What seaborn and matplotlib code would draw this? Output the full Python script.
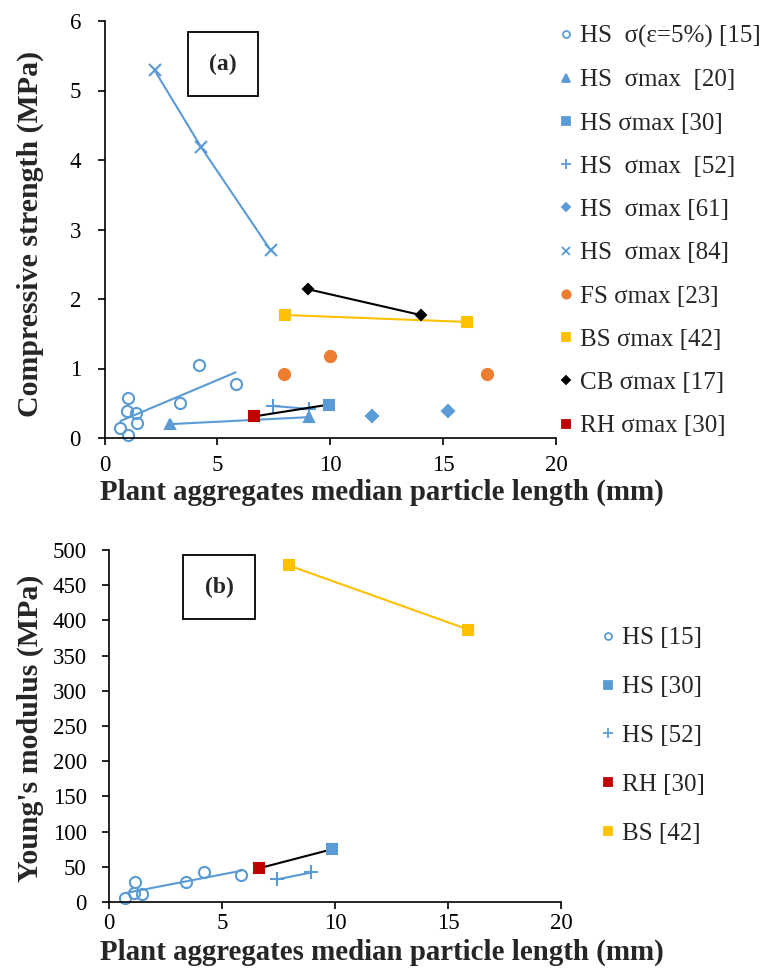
import numpy as np
import pandas as pd
import matplotlib
matplotlib.use("Agg")
import matplotlib.pyplot as plt
import seaborn as sns
from matplotlib.lines import Line2D

sns.set_theme(style="white")
plt.rcParams["font.family"] = ["Liberation Serif", "DejaVu Serif"]
plt.rcParams["mathtext.default"] = "regular"

BLUE = "#5B9BD5"
ORANGE = "#ED7D31"
YELLOW = "#FFC000"
BLACK = "#000000"
RED = "#C00000"

# ---------------- (a) compressive strength ----------------
a_hs15_x = [0.70, 1.01, 1.04, 1.04, 1.41, 1.44, 3.36, 4.19, 5.81]
a_hs15_y = [0.15, 0.39, 0.58, 0.04, 0.36, 0.21, 0.51, 1.05, 0.78]
a_hs20_x = [2.92, 9.04]
a_hs20_y = [0.20, 0.30]
a_hs30_x = [9.93]
a_hs30_y = [0.48]
a_hs52_x = [7.48, 9.04]
a_hs52_y = [0.46, 0.42]
a_hs61_x = [11.85, 15.23]
a_hs61_y = [0.31, 0.39]
a_hs84_x = [2.22, 4.27, 7.36]
a_hs84_y = [5.29, 4.19, 2.70]
a_fs23_x = [7.97, 10.0, 16.96]
a_fs23_y = [0.92, 1.18, 0.92]
a_bs42_x = [8.0, 16.04]
a_bs42_y = [1.77, 1.67]
a_cb17_x = [9.02, 14.0]
a_cb17_y = [2.14, 1.77]
a_rh30_x = [6.62]
a_rh30_y = [0.31]

a_labels = ["HS  σ(ε=5%) [15]", "HS  σmax  [20]", "HS σmax [30]", "HS  σmax  [52]",
            "HS  σmax [61]", "HS  σmax [84]", "FS σmax [23]", "BS σmax [42]",
            "CB σmax [17]", "RH σmax [30]"]

# ---------------- (b) Young's modulus ----------------
b_hs15_x = [0.71, 1.12, 1.15, 1.47, 3.39, 4.20, 5.83]
b_hs15_y = [5, 13, 29, 11, 29, 42, 39]
b_hs30_x = [9.88]
b_hs30_y = [75]
b_hs52_x = [7.42, 8.96]
b_hs52_y = [32, 42]
b_rh30_x = [6.65]
b_rh30_y = [48]
b_bs42_x = [7.96, 15.9]
b_bs42_y = [478, 387]

b_labels = ["HS [15]", "HS [30]", "HS [52]", "RH [30]", "BS [42]"]

W, H = 769, 969
fig = plt.figure(figsize=(W / 100, H / 100), dpi=100)


def frac_axes(l, t, r, b):
    return fig.add_axes([l / W, 1 - b / H, (r - l) / W, (b - t) / H])


axa = frac_axes(104.5, 21, 556, 438)
axb = frac_axes(109, 550, 561, 902)

TICK_FS = 16.5
XLBL_FS = 20.8
YLBL_FS = 21.5
LEG_FS = 18


def line(ax, x, y, color, marker, ms, mfc=None, ls="-", lw=1.5, mew=1.5):
    df = pd.DataFrame({"x": x, "y": y})
    sns.lineplot(data=df, x="x", y="y", ax=ax, color=color, marker=marker,
                 markersize=ms, linestyle=ls, linewidth=lw, sort=False,
                 estimator=None, markeredgecolor=color,
                 markerfacecolor=color if mfc is None else mfc,
                 markeredgewidth=mew, legend=False)


def trend(ax, x, y, color):
    sns.regplot(x=np.array(x), y=np.array(y), ax=ax, ci=None, scatter=False,
                truncate=True, line_kws=dict(color=color, lw=1.5))


# panel a
trend(axa, a_hs15_x, a_hs15_y, BLUE)
line(axa, a_hs15_x, a_hs15_y, BLUE, "o", 8, mfc="none", ls="")
line(axa, a_hs20_x, a_hs20_y, BLUE, "^", 7.5)
line(axa, a_hs52_x, a_hs52_y, BLUE, "+", 10)
line(axa, a_hs84_x, a_hs84_y, BLUE, "x", 9)
line(axa, a_hs61_x, a_hs61_y, BLUE, "D", 6, ls="")
line(axa, a_fs23_x, a_fs23_y, ORANGE, "o", 8, ls="")
line(axa, a_bs42_x, a_bs42_y, YELLOW, "s", 7.5)
line(axa, a_cb17_x, a_cb17_y, BLACK, "D", 5.5)
line(axa, a_rh30_x + a_hs30_x, a_rh30_y + a_hs30_y, BLACK, "", 0)
line(axa, a_hs30_x, a_hs30_y, BLUE, "s", 7.5, ls="")
line(axa, a_rh30_x, a_rh30_y, RED, "s", 7.5, ls="")

# panel b
trend(axb, b_hs15_x, b_hs15_y, BLUE)
line(axb, b_hs15_x, b_hs15_y, BLUE, "o", 8, mfc="none", ls="")
line(axb, b_hs52_x, b_hs52_y, BLUE, "+", 10)
line(axb, b_rh30_x + b_hs30_x, b_rh30_y + b_hs30_y, BLACK, "", 0)
line(axb, b_hs30_x, b_hs30_y, BLUE, "s", 7.5, ls="")
line(axb, b_rh30_x, b_rh30_y, RED, "s", 7.5, ls="")
line(axb, b_bs42_x, b_bs42_y, YELLOW, "s", 7.5)

for ax, ymax, ystep, xpad, ypad in [(axa, 6, 1, 7, 12), (axb, 500, 50, 3, 11)]:
    ax.set_xlim(0, 20)
    ax.set_ylim(0, ymax)
    ax.set_xticks(np.arange(0, 21, 5))
    ax.set_yticks(np.arange(0, ymax + 0.001, ystep))
    ax.set_xlabel("")
    ax.set_ylabel("")
    for s in ["top", "right"]:
        ax.spines[s].set_visible(False)
    for s in ["left", "bottom"]:
        ax.spines[s].set_color("black")
        ax.spines[s].set_linewidth(1.2)
    ax.tick_params(axis="both", direction="out", length=5, width=1.2,
                   colors="black", labelsize=TICK_FS, left=True, bottom=True)
    ax.tick_params(axis="x", pad=xpad)
    ax.tick_params(axis="y", pad=ypad)
    ax.set_facecolor("white")
    for ln in ax.lines:
        ln.set_clip_on(False)

# axis labels
fig.text(382 / W, 1 - 492 / H, "Plant aggregates median particle length (mm)",
         ha="center", va="center", fontsize=XLBL_FS, fontweight="bold")
fig.text(382 / W, 1 - 952 / H, "Plant aggregates median particle length (mm)",
         ha="center", va="center", fontsize=XLBL_FS, fontweight="bold")
fig.text(30 / W, 1 - 234 / H, "Compressive strength (MPa)", rotation=90,
         ha="center", va="center", fontsize=YLBL_FS, fontweight="bold")
fig.text(30 / W, 1 - 728 / H, "Young's modulus (MPa)", rotation=90,
         ha="center", va="center", fontsize=YLBL_FS, fontweight="bold")

# panel tags
fig.text(223 / W, 1 - 64 / H, "(a)", ha="center", va="center", fontsize=17,
         fontweight="bold",
         bbox=dict(boxstyle="square,pad=0.9", fc="white", ec="black", lw=1.3))
fig.text(219 / W, 1 - 587 / H, "(b)", ha="center", va="center", fontsize=17,
         fontweight="bold",
         bbox=dict(boxstyle="square,pad=0.9", fc="white", ec="black", lw=1.3))


def mk(color, marker, ms, mfc=None):
    return Line2D([], [], color=color, marker=marker, markersize=ms, linestyle="",
                  markerfacecolor=color if mfc is None else mfc,
                  markeredgecolor=color, markeredgewidth=1.3)


a_handles = [mk(BLUE, "o", 5, "none"), mk(BLUE, "^", 6), mk(BLUE, "s", 6),
             mk(BLUE, "+", 7), mk(BLUE, "D", 4.5), mk(BLUE, "x", 6),
             mk(ORANGE, "o", 6), mk(YELLOW, "s", 6), mk(BLACK, "D", 4.5),
             mk(RED, "s", 6)]
b_handles = [mk(BLUE, "o", 5, "none"), mk(BLUE, "s", 6), mk(BLUE, "+", 7),
             mk(RED, "s", 6), mk(YELLOW, "s", 6)]

fig.legend(a_handles, a_labels, loc="upper left",
           bbox_to_anchor=(558 / W, 1 - 25 / H), frameon=False,
           fontsize=LEG_FS, handlelength=0.6, handletextpad=0.3,
           labelspacing=0.83, borderpad=0, borderaxespad=0)
fig.legend(b_handles, b_labels, loc="upper left",
           bbox_to_anchor=(600 / W, 1 - 627 / H), frameon=False,
           fontsize=LEG_FS, handlelength=0.6, handletextpad=0.3,
           labelspacing=1.05, borderpad=0, borderaxespad=0)

fig.savefig("out.png", dpi=100, facecolor="white")
